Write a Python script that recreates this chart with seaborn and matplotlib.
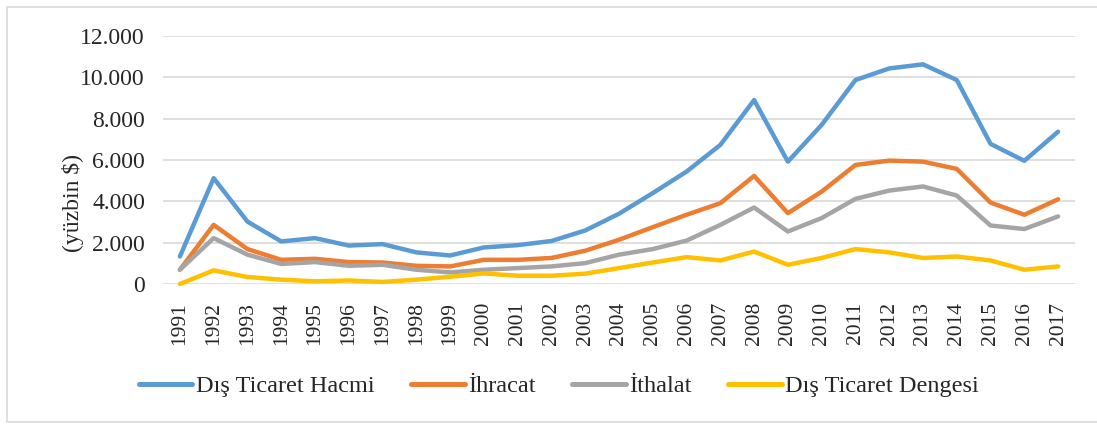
import matplotlib
matplotlib.use("Agg")
import matplotlib.pyplot as plt
import seaborn as sns
import pandas as pd
from matplotlib.ticker import FuncFormatter
from matplotlib.patches import Rectangle

years = list(range(1991, 2018))
hacim = [1330, 5120, 3020, 2060, 2220, 1860, 1930, 1530, 1380, 1770, 1880, 2080, 2590, 3400,
         4400, 5440, 6730, 8900, 5920, 7700, 9870, 10430, 10630, 9870, 6780, 5960, 7370]
ihracat = [690, 2860, 1690, 1170, 1220, 1060, 1040, 880, 850, 1170, 1170, 1260, 1610, 2140,
           2750, 3350, 3910, 5230, 3430, 4470, 5760, 5970, 5920, 5570, 3940, 3350, 4100]
ithalat = [690, 2220, 1420, 970, 1060, 880, 930, 690, 560, 690, 770, 850, 1010, 1420,
           1690, 2100, 2860, 3700, 2540, 3190, 4120, 4520, 4720, 4280, 2830, 2660, 3270]
denge = [0, 660, 340, 210, 130, 170, 100, 210, 350, 510, 400, 400, 500, 770,
         1040, 1300, 1140, 1570, 930, 1260, 1690, 1530, 1260, 1330, 1140, 690, 850]
series_names = ["Dış Ticaret Hacmi", "İhracat", "İthalat", "Dış Ticaret Dengesi"]
colors = ["#5B9BD5", "#ED7D31", "#A5A5A5", "#FFC000"]
yticks = [0, 2000, 4000, 6000, 8000, 10000, 12000]

sns.set_theme(style="white")
plt.rcParams['font.family'] = ['Liberation Serif', 'DejaVu Serif']

rows = []
for name, vals in zip(series_names, [hacim, ihracat, ithalat, denge]):
    for i, (yr, v) in enumerate(zip(years, vals)):
        rows.append({"idx": i, "year": yr, "value": v, "series": name})
df = pd.DataFrame(rows)

fig = plt.figure(figsize=(10.97, 4.24), dpi=100)
ax = fig.add_axes([163/1097, 1 - 284/424, (1075-163)/1097, (284-36)/424])

sns.lineplot(data=df, x="idx", y="value", hue="series", hue_order=series_names,
             palette=colors, linewidth=3.2, ax=ax, sort=False, legend=True)
for ln in ax.get_lines():
    ln.set_clip_on(False)
    ln.set_solid_capstyle('round')
    ln.set_solid_joinstyle('round')

ax.set_xlim(-0.5, len(years) - 0.5)
ax.set_ylim(0, 12000)
ax.set_yticks(yticks)
ax.yaxis.set_major_formatter(FuncFormatter(lambda v, p: f"{int(v):,}".replace(",", ".")))
ax.set_xticks(range(len(years)))
ax.set_xticklabels([str(y) for y in years], rotation=90, fontsize=15.5)
ax.tick_params(axis='y', labelsize=17, length=0, pad=13)
ax.tick_params(axis='x', length=0, pad=13)
ax.grid(axis='y', color='#d9d9d9', linewidth=1.2)
ax.set_axisbelow(True)
for s in ax.spines.values():
    s.set_visible(False)
ax.set_xlabel("")
ax.set_ylabel("")

fig.text(73/1097, 1 - 203/424, "(yüzbin $)", rotation=90, fontsize=17,
         ha='center', va='center')

handles, labels = ax.get_legend_handles_labels()
ax.legend_.remove()
for h in handles:
    h.set_solid_capstyle('round')
    h.set_linewidth(3.6)
fig.legend(handles, labels, loc='center', bbox_to_anchor=(559/1097, 1 - 386/424),
           ncol=4, frameon=False, fontsize=17.5, handlelength=2.2, handletextpad=0.15,
           columnspacing=1.5)

fig.patches.append(Rectangle((7/1097, 2/424), 1100/1097, 415/424, transform=fig.transFigure,
                             fill=False, edgecolor='#d9d9d9', linewidth=1.2))

fig.savefig("out.png", dpi=100)
